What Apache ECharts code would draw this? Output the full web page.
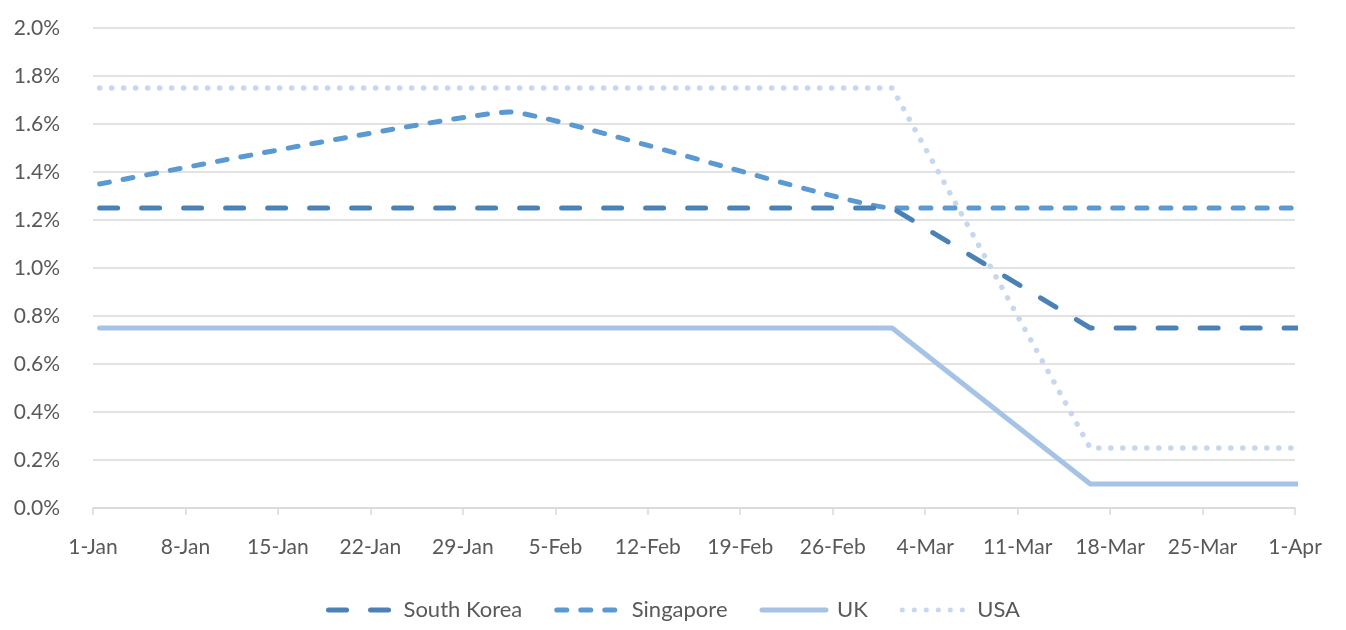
<!DOCTYPE html>
<html>
<head>
<meta charset="utf-8">
<script src="https://cdn.jsdelivr.net/npm/echarts@6/dist/echarts.min.js"></script>
<style>
html,body{margin:0;padding:0;background:#fff;}
#chart{width:1346px;height:630px;}
</style>
</head>
<body>
<div id="chart"></div>
<script>
// Tick labels (every 7 days, 1-Jan to 1-Apr 2020)
const tickLabels = ['1-Jan','8-Jan','15-Jan','22-Jan','29-Jan','5-Feb','12-Feb','19-Feb','26-Feb','4-Mar','11-Mar','18-Mar','25-Mar','1-Apr'];
// Data: day index from 1-Jan (0) and rate in %
const koreaDays = [0, 60, 75, 91];            // 1-Jan, 1-Mar, 16-Mar, 1-Apr
const koreaValues = [1.25, 1.25, 0.75, 0.75];
const singaporeDays = [0, 31, 60, 75, 91];     // 1-Jan, 1-Feb, 1-Mar, 16-Mar, 1-Apr
const singaporeValues = [1.35, 1.65, 1.25, 1.25, 1.25];
const ukDays = [0, 60, 75, 91];
const ukValues = [0.75, 0.75, 0.10, 0.10];
const usaDays = [0, 60, 75, 91];
const usaValues = [1.75, 1.75, 0.25, 0.25];

// Excel-style date axis places each point in the middle of its day slot
const pts = (days, vals) => days.map((d, i) => [d + 0.5, vals[i]]);

const FONT = 'Lato';
const chart = echarts.init(document.getElementById('chart'), null, {renderer: 'canvas'});
chart.setOption({
  animation: false,
  backgroundColor: '#ffffff',
  grid: {left: 93, right: 51, top: 28, bottom: 122, containLabel: false},
  xAxis: {
    type: 'value', min: 0, max: 91, interval: 7,
    axisLine: {show: true, lineStyle: {color: '#d9d9d9', width: 1.5}},
    axisTick: {show: true, length: 7, lineStyle: {color: '#d9d9d9', width: 1.5}},
    splitLine: {show: false},
    axisLabel: {
      margin: 29, color: '#595959', fontFamily: FONT, fontSize: 21,
      showMinLabel: true, showMaxLabel: true,
      formatter: v => tickLabels[Math.round(v / 7)] || ''
    }
  },
  yAxis: {
    type: 'value', min: 0, max: 2.0, interval: 0.2,
    axisLine: {show: false}, axisTick: {show: false},
    splitLine: {lineStyle: {color: '#d9d9d9', width: 1.5}},
    axisLabel: {
      margin: 33, color: '#595959', fontFamily: FONT, fontSize: 21,
      formatter: v => v.toFixed(1) + '%'
    }
  },
  legend: {
    bottom: 4, left: 'center',
    itemWidth: 64, itemHeight: 10, itemGap: 32,
    itemStyle: {opacity: 0},
    lineStyle: {width: 5, cap: 'round'},
    textStyle: {color: '#595959', fontFamily: FONT, fontSize: 22, padding: [0, 0, 0, 6]},
    data: ['South Korea', 'Singapore', 'UK', 'USA']
  },
  series: [
    {
      name: 'South Korea', type: 'line', showSymbol: false, symbol: 'none', clip: false,
      data: pts(koreaDays, koreaValues), z: 4,
      lineStyle: {color: '#4a81b7', width: 5, type: [18, 24], cap: 'round'},
      itemStyle: {color: '#4a81b7'}
    },
    {
      name: 'Singapore', type: 'line', showSymbol: false, symbol: 'none', clip: false,
      data: pts(singaporeDays, singaporeValues), z: 3,
      smooth: 0.1, smoothMonotone: 'x',
      lineStyle: {color: '#5b99d2', width: 5, type: [10, 14], cap: 'round'},
      itemStyle: {color: '#5b99d2'}
    },
    {
      name: 'UK', type: 'line', showSymbol: false, symbol: 'none', clip: false,
      data: pts(ukDays, ukValues), z: 2,
      lineStyle: {color: '#a6c2e5', width: 5, cap: 'round', join: 'round'},
      itemStyle: {color: '#a6c2e5'}
    },
    {
      name: 'USA', type: 'line', showSymbol: false, symbol: 'none', clip: false,
      data: pts(usaDays, usaValues), z: 1,
      lineStyle: {color: '#c7d7ee', width: 5.5, type: [0.1, 11.9], cap: 'round'},
      itemStyle: {color: '#c7d7ee'}
    }
  ]
});
</script>
</body>
</html>
